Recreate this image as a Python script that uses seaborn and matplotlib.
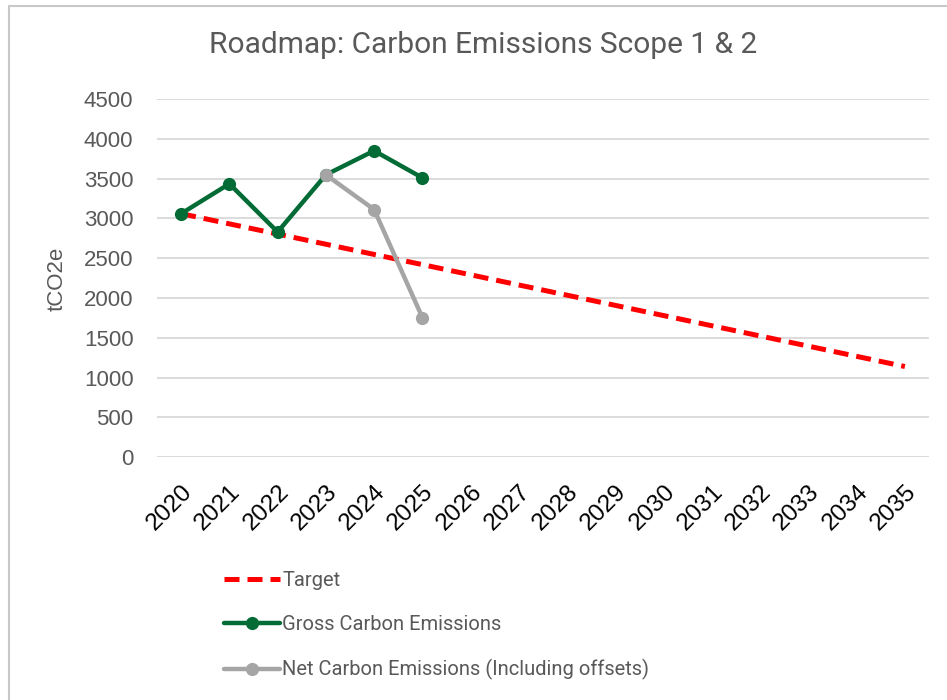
import matplotlib
matplotlib.use("Agg")
import matplotlib.pyplot as plt
from matplotlib.lines import Line2D
import pandas as pd
import seaborn as sns

YEARS = [str(y) for y in range(2020, 2036)]
TARGET = [3060, 2932, 2804, 2676, 2548, 2420, 2292, 2164,
          2036, 1908, 1780, 1652, 1524, 1396, 1268, 1140]
GROSS_YEARS = ["2020", "2021", "2022", "2023", "2024", "2025"]
GROSS = [3060, 3435, 2830, 3548, 3850, 3510]
NET_YEARS = ["2023", "2024", "2025"]
NET = [3548, 3112, 1755]

SERIES_LABELS = ["Target", "Gross Carbon Emissions", "Net Carbon Emissions (Including offsets)"]
RED = "#FF0000"
GREEN = "#036B35"
GREY = "#A5A5A5"
TEXT_GREY = "#595959"
ARIAL = ["Liberation Sans", "DejaVu Sans"]

W, H = 947, 700

sns.set_theme(style="white")
plt.rcParams["font.family"] = ["Roboto", "DejaVu Sans"]

fig = plt.figure(figsize=(W / 100, H / 100), dpi=100)
ax = fig.add_axes([157 / W, 1 - 457.3 / H, (929 - 157) / W, (457.3 - 99) / H])

target_df = pd.DataFrame({"year": YEARS, "value": TARGET})
gross_df = pd.DataFrame({"year": GROSS_YEARS, "value": GROSS})
net_df = pd.DataFrame({"year": NET_YEARS, "value": NET})

sns.lineplot(data=target_df, x="year", y="value", ax=ax, color=RED,
             linewidth=3.6, linestyle="--", sort=False)
ax.lines[-1].set_dashes([3.0, 1.6])
sns.lineplot(data=gross_df, x="year", y="value", ax=ax, color=GREEN,
             linewidth=3.2, marker="o", markersize=9.5, markeredgewidth=0, sort=False)
sns.lineplot(data=net_df, x="year", y="value", ax=ax, color=GREY,
             linewidth=3.2, marker="o", markersize=9.5, markeredgewidth=0, sort=False)

ax.set_xlim(-0.5, len(YEARS) - 0.5)
ax.set_ylim(0, 4500)
ax.set_yticks(range(0, 4501, 500))
ax.grid(axis="y", color="#D9D9D9", linewidth=1.3)
ax.grid(axis="x", visible=False)
ax.set_axisbelow(True)
for spine in ax.spines.values():
    spine.set_visible(False)
ax.tick_params(axis="both", length=0)
ax.tick_params(axis="y", pad=17)
ax.tick_params(axis="x", pad=17)
ax.set_xlabel("")
ax.set_ylabel("")
for lbl in ax.get_yticklabels():
    lbl.set_fontfamily(ARIAL)
    lbl.set_fontsize(16)
    lbl.set_color(TEXT_GREY)
ax.set_xticks(range(len(YEARS)))
ax.set_xticklabels(YEARS, rotation=45, ha="right", rotation_mode="anchor",
                   fontsize=17.5, color="black", family=ARIAL)

fig.text(483.5 / W, 1 - 45 / H, "Roadmap: Carbon Emissions Scope 1 & 2",
         ha="center", va="center", fontsize=21.5, color=TEXT_GREY)
fig.text(57.5 / W, 1 - 279 / H, "tCO2e", rotation=90, ha="center", va="center",
         fontsize=16, color=TEXT_GREY, family=ARIAL)

handles = [
    Line2D([], [], color=RED, linewidth=3.6, dashes=[3.0, 1.6]),
    Line2D([], [], color=GREEN, linewidth=3.2, marker="o", markersize=9.5, markeredgewidth=0),
    Line2D([], [], color=GREY, linewidth=3.2, marker="o", markersize=9.5, markeredgewidth=0),
]
leg = fig.legend(handles, SERIES_LABELS, loc="upper left",
                 bbox_to_anchor=(214 / W, 1 - 561 / H), frameon=False,
                 fontsize=14.5, handlelength=2.8, handletextpad=0.1,
                 labelspacing=1.25, borderpad=0)
for t in leg.get_texts():
    t.set_color(TEXT_GREY)

# chart frame (cropped at right and bottom)
fig.add_artist(Line2D([9 / W, 9 / W], [0, 1 - 6 / H], color="#C8C8C8", linewidth=1.5))
fig.add_artist(Line2D([9 / W, 1], [1 - 6 / H, 1 - 6 / H], color="#C8C8C8", linewidth=1.5))

fig.savefig("out.png", dpi=100)
